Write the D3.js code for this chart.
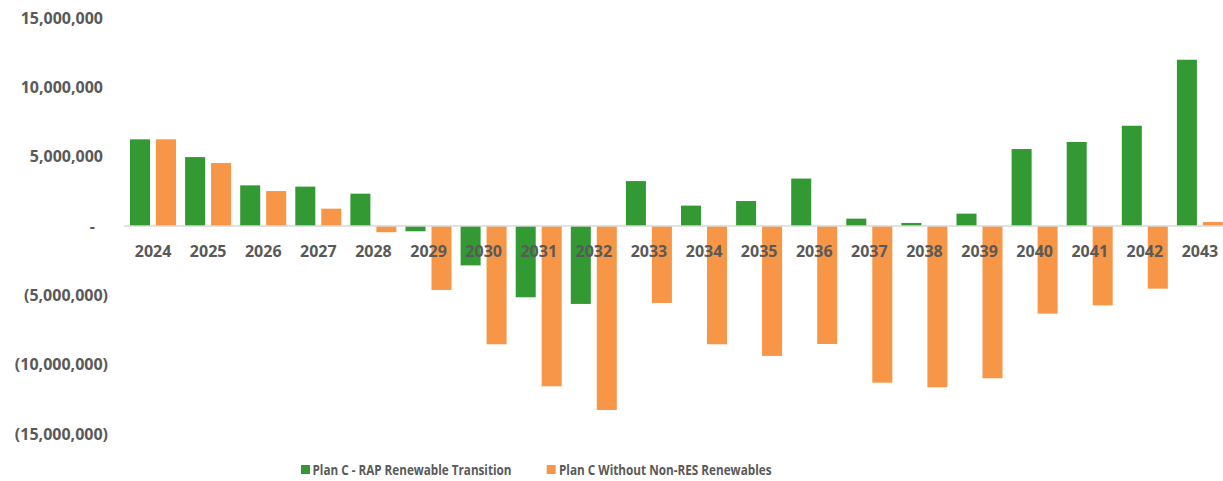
<!DOCTYPE html>
<html>
<head>
<meta charset="utf-8">
<script src="https://cdn.jsdelivr.net/npm/d3@7"></script>
<style>
  html, body { margin: 0; padding: 0; background: #fff; }
  svg { display: block; }
  text { font-family: "Open Sans", "Liberation Sans", sans-serif; font-weight: bold; fill: #595959; }
</style>
</head>
<body>
<svg id="chart" width="1223" height="481"></svg>
<script>
const years = ["2024","2025","2026","2027","2028","2029","2030","2031","2032","2033",
               "2034","2035","2036","2037","2038","2039","2040","2041","2042","2043"];
const seriesNames = ["Plan C - RAP Renewable Transition", "Plan C Without Non-RES Renewables"];
const ragTransition = [6250000, 4970000, 2930000, 2840000, 2330000, -380000, -2840000, -5140000, -5620000, 3240000,
                       1470000, 1800000, 3420000, 530000, 220000, 890000, 5550000, 6060000, 7230000, 11990000];
const withoutNonRes = [6250000, 4540000, 2520000, 1250000, -450000, -4610000, -8530000, -11560000, -13270000, -5550000,
                       -8530000, -9370000, -8510000, -11300000, -11630000, -10980000, -6320000, -5720000, -4520000, 290000];
const yTicks = [-15000000, -10000000, -5000000, 0, 5000000, 10000000, 15000000];
const colors = ["#339933", "#F79646"];

const svg = d3.select("#chart");

const x0 = d3.scaleBand().domain(years).range([125.5, 1227.5]).paddingInner(0).paddingOuter(0);
const x1 = d3.scaleBand().domain([0, 1]).range([4.5, x0.bandwidth() - 4.6]).paddingInner(0.23);
const y = d3.scaleLinear().domain([-15000000, 15000000]).range([434, 18]);

const fmt = d3.format(",");
// Y axis labels (accounting style)
const yAxis = d3.axisLeft(y).tickValues(yTicks).tickSize(0).tickPadding(0)
  .tickFormat(d => d === 0 ? "-" : (d < 0 ? "(" + fmt(-d) + ")" : fmt(d)));
const yg = svg.append("g").attr("transform", "translate(103,0)").call(yAxis);
yg.select(".domain").remove();
yg.selectAll("text")
  .attr("font-size", 16)
  .attr("fill", "#595959")
  .attr("font-family", null)
  .attr("x", d => d < 0 ? 5 : (d === 0 ? -8 : 0));

const data = years.map((yr, i) => ({ year: yr, vals: [ragTransition[i], withoutNonRes[i]] }));

const groups = svg.append("g").selectAll("g").data(data).join("g")
  .attr("transform", d => `translate(${x0(d.year)},0)`);
groups.selectAll("rect").data(d => d.vals.map((v, k) => ({ v, k }))).join("rect")
  .attr("x", d => x1(d.k))
  .attr("width", x1.bandwidth())
  .attr("y", d => Math.min(y(d.v), y(0)))
  .attr("height", d => Math.abs(y(d.v) - y(0)))
  .attr("fill", d => colors[d.k]);

// zero line
svg.append("line")
  .attr("x1", 124).attr("x2", 1223)
  .attr("y1", y(0)).attr("y2", y(0))
  .attr("stroke", "#d9d9d9").attr("stroke-width", 1.3);

// category labels
const xAxis = d3.axisBottom(x0).tickSize(0).tickPadding(0);
const xg = svg.append("g").attr("transform", `translate(0,${y(0)})`).call(xAxis);
xg.select(".domain").remove();
xg.selectAll("text")
  .attr("font-size", 16)
  .attr("fill", "#595959")
  .attr("font-family", null)
  .attr("dy", null)
  .attr("y", 30.5);

// legend
const legendItems = [
  { name: seriesNames[0], color: colors[0], sx: 301, tx: 312.5, len: 199 },
  { name: seriesNames[1], color: colors[1], sx: 546.7, tx: 559, len: 212.5 }
];
const lg = svg.append("g");
legendItems.forEach(it => {
  lg.append("rect").attr("x", it.sx).attr("y", 465).attr("width", 9).attr("height", 9).attr("fill", it.color);
  lg.append("text").attr("x", it.tx).attr("y", 474.5).attr("font-size", 15)
    .attr("textLength", it.len).attr("lengthAdjust", "spacingAndGlyphs").text(it.name);
});
</script>
</body>
</html>
